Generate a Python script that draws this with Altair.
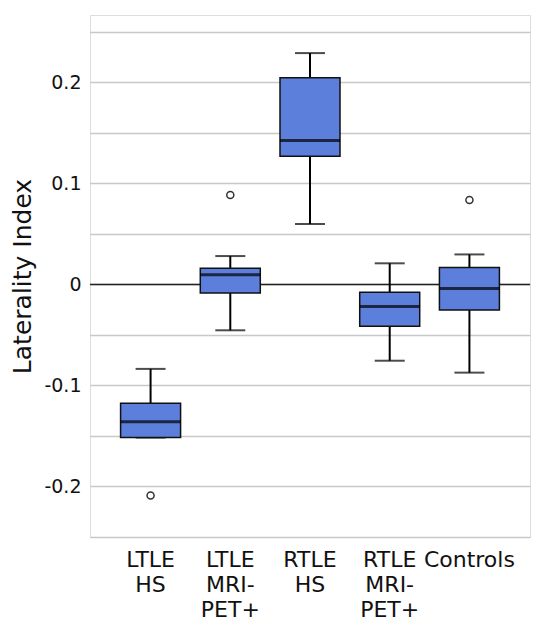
import altair as alt
import pandas as pd

groups = ["LTLE HS", "LTLE MRI-PET+", "RTLE HS", "RTLE MRI-PET+", "Controls"]
whisker_low = [-0.1516, -0.0454, 0.0598, -0.0755, -0.0873]
q1 = [-0.1516, -0.0085, 0.1268, -0.0415, -0.0252]
median = [-0.136, 0.0095, 0.1425, -0.0219, -0.0039]
q3 = [-0.1176, 0.016, 0.2046, -0.0078, 0.0167]
whisker_high = [-0.0836, 0.0281, 0.229, 0.0209, 0.0297]

outlier_groups = ["LTLE HS", "LTLE MRI-PET+", "Controls"]
outlier_values = [-0.209, 0.0885, 0.0836]

grid_values = [-0.25, -0.2, -0.15, -0.1, -0.05, 0, 0.05, 0.1, 0.15, 0.2, 0.25]

FONT = "DejaVu Sans"

box = pd.DataFrame({
    "group": groups, "lo": whisker_low, "q1": q1, "med": median,
    "q3": q3, "hi": whisker_high,
})
out = pd.DataFrame({"group": outlier_groups, "value": outlier_values})
zero = pd.DataFrame({"y": [0]})

label_expr = "split(replace(replace(datum.label, ' ', '|'), '-', '-|'), '|')"

x = alt.X("group:N", sort=groups, title=None,
          scale=alt.Scale(paddingInner=0, paddingOuter=0.26),
          axis=alt.Axis(labelAngle=0, labelExpr=label_expr, labelFontSize=22,
                        labelLineHeight=25, labelPadding=12, ticks=False,
                        domain=False, labelColor="#111", labelFont=FONT,
                        labelBaseline="top"))

yscale = alt.Scale(domain=[-0.25, 0.2667], nice=False, zero=False)
yaxis = alt.Axis(values=grid_values, grid=True, gridColor="#c8c8c8", gridWidth=1.5,
                 ticks=False, domain=False,
                 labelExpr="(round(datum.value*20) % 2 == 0) ? '' + round(datum.value*10)/10 : ''",
                 labelFontSize=19, labelPadding=9, labelColor="#111",
                 labelFont=FONT,
                 title="Laterality Index", titleFontSize=25, titleFontWeight="normal",
                 titleFont=FONT, titleColor="#111", titlePadding=8)

base = alt.Chart(box).encode(x=x)

whisk_low = base.mark_rule(color="black", strokeWidth=2).encode(
    y=alt.Y("lo:Q", scale=yscale, axis=yaxis), y2="q1:Q")
whisk_high = base.mark_rule(color="black", strokeWidth=2).encode(
    y=alt.Y("q3:Q", scale=yscale), y2="hi:Q")
cap_low = base.mark_tick(color="black", size=30, thickness=2).encode(y=alt.Y("lo:Q", scale=yscale))
cap_high = base.mark_tick(color="black", size=30, thickness=2).encode(y=alt.Y("hi:Q", scale=yscale))
zline = alt.Chart(zero).mark_rule(color="#222", strokeWidth=1.5).encode(y=alt.Y("y:Q", scale=yscale))
boxes = base.mark_bar(size=60, color="#5d7fdc", stroke="#111", strokeWidth=1.5).encode(
    y=alt.Y("q1:Q", scale=yscale), y2="q3:Q")
meds = base.mark_tick(color="black", size=60, thickness=3).encode(y=alt.Y("med:Q", scale=yscale))
points = alt.Chart(out).mark_point(shape="circle", filled=False, color="#333",
                                   strokeWidth=1.5, size=50, opacity=1).encode(
    x=alt.X("group:N", sort=groups), y=alt.Y("value:Q", scale=yscale))

chart = alt.layer(zline, whisk_low, whisk_high, cap_low, cap_high, boxes, meds, points).properties(
    width=440, height=522,
    autosize=alt.AutoSizeParams(type="none"),
    padding={"left": 82, "top": 7, "right": 1, "bottom": 89},
).configure_view(stroke="#555", strokeWidth=1.5).configure(background="white")

chart.save("out.html", embed_options={"renderer": "svg", "actions": False})
